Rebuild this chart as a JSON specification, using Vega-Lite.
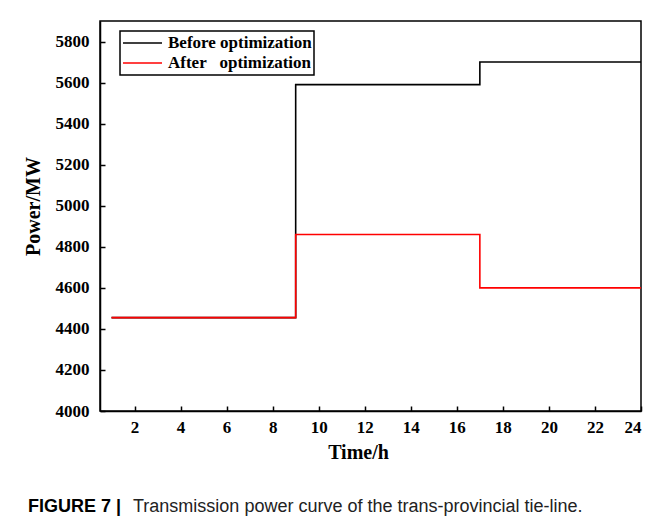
{
  "$schema": "https://vega.github.io/schema/vega-lite/v6.json",
  "width": 541,
  "height": 390,
  "autosize": {"type": "none"},
  "padding": {"left": 100, "top": 21, "right": 24, "bottom": 106},
  "background": "white",
  "title": {
    "text": "FIGURE 7 |",
    "subtitle": "\u200b\u00a0\u00a0\u00a0\u00a0\u00a0\u00a0\u00a0\u00a0\u00a0\u00a0\u00a0\u00a0\u00a0\u00a0\u00a0\u00a0\u00a0\u00a0\u00a0\u00a0\u00a0Transmission power curve of the trans-provincial tie-line.",
    "orient": "bottom",
    "anchor": "start",
    "frame": "group",
    "dx": -72,
    "offset": 36,
    "font": "Liberation Sans",
    "fontSize": 18,
    "fontWeight": "bold",
    "color": "black",
    "subtitleFont": "Liberation Sans",
    "subtitleFontSize": 18,
    "subtitleFontWeight": "normal",
    "subtitleColor": "#222222",
    "subtitlePadding": -18
  },
  "data": {
    "values": [
      {"t": 1, "p": 4455, "s": "Before optimization"},
      {"t": 9, "p": 5590, "s": "Before optimization"},
      {"t": 17, "p": 5700, "s": "Before optimization"},
      {"t": 24, "p": 5700, "s": "Before optimization"},
      {"t": 1, "p": 4455, "s": "After\u00a0\u00a0\u00a0optimization"},
      {"t": 9, "p": 4860, "s": "After\u00a0\u00a0\u00a0optimization"},
      {"t": 17, "p": 4600, "s": "After\u00a0\u00a0\u00a0optimization"},
      {"t": 24, "p": 4600, "s": "After\u00a0\u00a0\u00a0optimization"}
    ]
  },
  "mark": {"type": "line", "interpolate": "step-after", "strokeWidth": 1.6},
  "encoding": {
    "x": {
      "field": "t",
      "type": "quantitative",
      "scale": {"domain": [0.5, 24], "nice": false, "zero": false},
      "axis": {
        "title": "Time/h",
        "values": [2, 4, 6, 8, 10, 12, 14, 16, 18, 20, 22, 24],
        "format": "d",
        "labelPadding": 13,
        "titlePadding": 7,
        "titleX": 258
      }
    },
    "y": {
      "field": "p",
      "type": "quantitative",
      "scale": {"domain": [4000, 5900], "nice": false, "zero": false},
      "axis": {
        "title": "Power/MW",
        "values": [4000, 4200, 4400, 4600, 4800, 5000, 5200, 5400, 5600, 5800],
        "format": "d",
        "labelPadding": 16,
        "titlePadding": 12,
        "titleY": 185
      }
    },
    "color": {
      "field": "s",
      "type": "nominal",
      "sort": null,
      "scale": {
        "domain": ["Before optimization", "After\u00a0\u00a0\u00a0optimization"],
        "range": ["black", "#ff0000"]
      },
      "legend": {
        "title": null,
        "orient": "none",
        "legendX": 20,
        "legendY": 10,
        "symbolType": "stroke",
        "symbolSize": 1521,
        "symbolStrokeWidth": 1.6,
        "clipHeight": 20,
        "labelFont": "Liberation Serif",
        "labelFontWeight": "bold",
        "labelFontSize": 17,
        "labelColor": "black",
        "labelOffset": 5,
        "rowPadding": 0,
        "padding": 2,
        "strokeColor": "black",
        "fillColor": "white"
      }
    }
  },
  "config": {
    "view": {"stroke": "black", "strokeWidth": 1.5},
    "axis": {
      "grid": false,
      "domainColor": "black",
      "domainWidth": 1.5,
      "tickColor": "black",
      "tickWidth": 1.5,
      "tickSize": -5,
      "labelFont": "Liberation Serif",
      "labelFontWeight": "bold",
      "labelFontSize": 17,
      "labelColor": "black",
      "titleFont": "Liberation Serif",
      "titleFontWeight": "bold",
      "titleFontSize": 20,
      "titleColor": "black"
    },
    "legend": {"strokeWidth": 1.5}
  }
}
